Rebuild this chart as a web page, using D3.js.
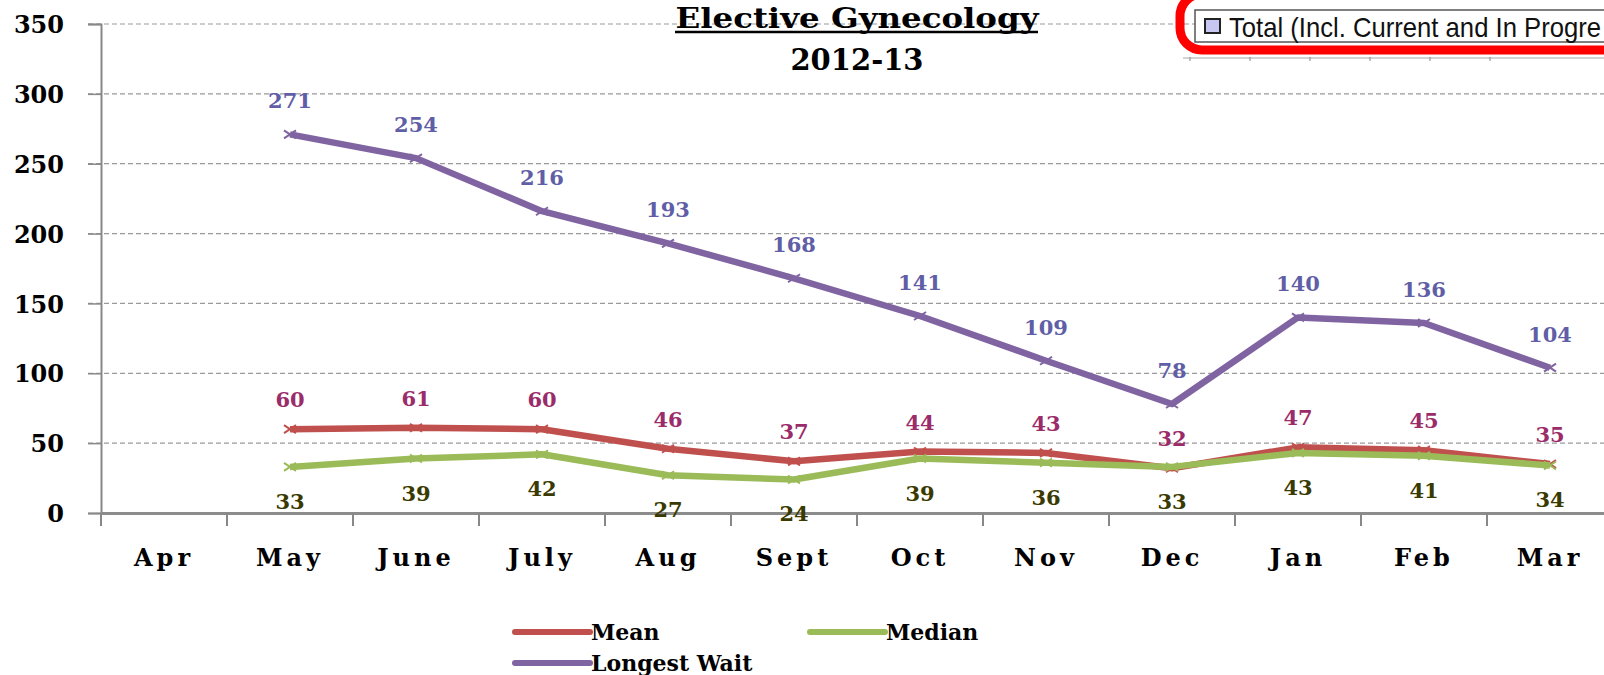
<!doctype html>
<html>
<head>
  <meta charset="utf-8">
  <title>Elective Gynecology 2012-13</title>
  <style>
  body { margin: 0; background: #fff; }
  #vis { width: 1604px; height: 675px; }
  .tick-label { font-family: 'DejaVu Serif', serif; font-weight: bold; fill: #000; }
  .value { font-family: 'DejaVu Serif', serif; font-weight: bold; font-size: 21px; text-anchor: middle; }
  </style>
</head>
<body>
  <div id="vis"></div>

  <script src="https://d3js.org/d3.v7.min.js"></script>
  <script>
  var months = ['Apr', 'May', 'June', 'July', 'Aug', 'Sept', 'Oct', 'Nov', 'Dec', 'Jan', 'Feb', 'Mar'];
  var meanValues = [null, 60, 61, 60, 46, 37, 44, 43, 32, 47, 45, 35];
  var medianValues = [null, 33, 39, 42, 27, 24, 39, 36, 33, 43, 41, 34];
  var longestValues = [null, 271, 254, 216, 193, 168, 141, 109, 78, 140, 136, 104];
  var yTicks = [0, 50, 100, 150, 200, 250, 300, 350];

  var width = 1604;
  var height = 675;

  var svg = d3.select('#vis')
    .append('svg')
    .attr('width', width)
    .attr('height', height);

  var x = d3.scaleBand().domain(months).range([101, 1613]);
  var y = d3.scaleLinear().domain([0, 350]).range([513, 24]);

  // gridlines
  svg.selectAll('.grid').data(yTicks.slice(1)).enter().append('line')
    .attr('x1', 88).attr('x2', width)
    .attr('y1', function(d){ return y(d) }).attr('y2', function(d){ return y(d) })
    .attr('stroke', '#9a9a9a').attr('stroke-width', 1.2)
    .attr('stroke-dasharray', '5,3');

  // y axis
  var yAxis = svg.append('g').attr('transform', 'translate(101,0)')
    .call(d3.axisLeft(y).tickValues(yTicks).tickSize(13).tickPadding(24));
  yAxis.select('.domain').attr('stroke', '#888').attr('stroke-width', 2);
  yAxis.selectAll('.tick line').attr('stroke', '#888').attr('stroke-width', 1.5);
  yAxis.selectAll('.tick text').attr('class', 'tick-label').attr('font-size', 24).attr('dy', '0.36em');

  // x axis
  var xAxis = svg.append('g').attr('transform', 'translate(0,513)')
    .call(d3.axisBottom(x).tickSize(0).tickPadding(36));
  xAxis.select('.domain').attr('stroke', '#8c8c8c').attr('stroke-width', 3);
  xAxis.selectAll('.tick text').attr('class', 'tick-label').attr('font-size', 24)
    .style('letter-spacing', '4px');
  svg.selectAll('.xtick').data(months).enter().append('line')
    .attr('x1', function(d){ return x(d) }).attr('x2', function(d){ return x(d) })
    .attr('y1', 513).attr('y2', 526)
    .attr('stroke', '#888').attr('stroke-width', 2);

  var series = [
    { name: 'Mean', values: meanValues, color: '#c0504d', label: '#9b2c6a', dy: -22 },
    { name: 'Median', values: medianValues, color: '#9bbb59', label: '#3a3a00', dy: 42 },
    { name: 'Longest Wait', values: longestValues, color: '#8064a2', label: '#5f5ea6', dy: -26 }
  ];

  var line = d3.line()
    .defined(function(d){ return d.v != null })
    .x(function(d){ return x(d.m) + x.bandwidth() / 2 })
    .y(function(d){ return y(d.v) });

  series.forEach(function(s){
    var pts = months.map(function(m, i){ return { m: m, v: s.values[i] } })
      .filter(function(d){ return d.v != null });
    svg.append('path').datum(pts)
      .attr('d', line)
      .attr('fill', 'none')
      .attr('stroke', s.color)
      .attr('stroke-width', 6.5)
      .attr('stroke-linejoin', 'round');
    // small x markers
    svg.selectAll(null).data(pts).enter().append('path')
      .attr('transform', function(d){ return 'translate(' + (x(d.m) + x.bandwidth() / 2) + ',' + y(d.v) + ')' })
      .attr('d', 'M-6,-4L6,4M-6,4L6,-4')
      .attr('stroke', s.color).attr('stroke-width', 2);
  });

  series.forEach(function(s){
    var pts = months.map(function(m, i){ return { m: m, v: s.values[i] } })
      .filter(function(d){ return d.v != null });
    svg.selectAll(null).data(pts).enter().append('text')
      .attr('class', 'value')
      .attr('x', function(d){ return x(d.m) + x.bandwidth() / 2 })
      .attr('y', function(d){ return y(d.v) + s.dy })
      .attr('fill', s.label)
      .text(function(d){ return d.v });
  });

  // title
  svg.append('text')
    .attr('x', 857).attr('y', 28)
    .attr('text-anchor', 'middle')
    .attr('font-family', 'DejaVu Serif').attr('font-weight', 'bold').attr('font-size', 27)
    .attr('textLength', 363).attr('lengthAdjust', 'spacingAndGlyphs')
    .text('Elective Gynecology');
  svg.append('line')
    .attr('x1', 675).attr('x2', 1038).attr('y1', 32).attr('y2', 32)
    .attr('stroke', '#000').attr('stroke-width', 2.5);
  svg.append('text')
    .attr('x', 857).attr('y', 70)
    .attr('text-anchor', 'middle')
    .attr('font-family', 'DejaVu Serif').attr('font-weight', 'bold').attr('font-size', 29)
    .text('2012-13');

  // top-right legend fragment with red annotation
  var tr = svg.append('g');
  tr.append('line').attr('x1', 1183).attr('x2', width).attr('y1', 58).attr('y2', 58)
    .attr('stroke', '#aaa').attr('stroke-width', 1);
  [1190, 1250, 1310, 1370, 1430, 1490].forEach(function(t){
    tr.append('line').attr('x1', t).attr('x2', t).attr('y1', 57).attr('y2', 61)
      .attr('stroke', '#888').attr('stroke-width', 1);
  });
  tr.append('rect').attr('x', 1195).attr('y', 10).attr('width', 420).attr('height', 32)
    .attr('fill', '#fff').attr('stroke', '#555').attr('stroke-width', 1.5);
  tr.append('rect').attr('x', 1205).attr('y', 19).attr('width', 15).attr('height', 14)
    .attr('fill', '#c7c7f2').attr('stroke', '#222').attr('stroke-width', 2);
  tr.append('text').attr('x', 1229).attr('y', 37)
    .attr('font-family', 'Liberation Sans').attr('font-size', 28)
    .attr('textLength', 372).attr('lengthAdjust', 'spacingAndGlyphs')
    .attr('fill', '#111')
    .text('Total (Incl. Current and In Progre');
  tr.append('rect').attr('x', 1180).attr('y', -6).attr('width', 470).attr('height', 56)
    .attr('rx', 22).attr('fill', 'none').attr('stroke', '#ff0000').attr('stroke-width', 9);

  // bottom legend
  var legendItems = [
    { s: series[0], lx: 515, ly: 632 },
    { s: series[1], lx: 810, ly: 632 },
    { s: series[2], lx: 515, ly: 663 }
  ];
  legendItems.forEach(function(it){
    svg.append('line').attr('x1', it.lx).attr('x2', it.lx + 75)
      .attr('y1', it.ly).attr('y2', it.ly)
      .attr('stroke', it.s.color).attr('stroke-width', 6).attr('stroke-linecap', 'round');
    svg.append('text').attr('x', it.lx + 76).attr('y', it.ly + 8)
      .attr('font-family', 'DejaVu Serif').attr('font-weight', 'bold').attr('font-size', 22)
      .text(it.s.name);
  });
  </script>
</body>
</html>
